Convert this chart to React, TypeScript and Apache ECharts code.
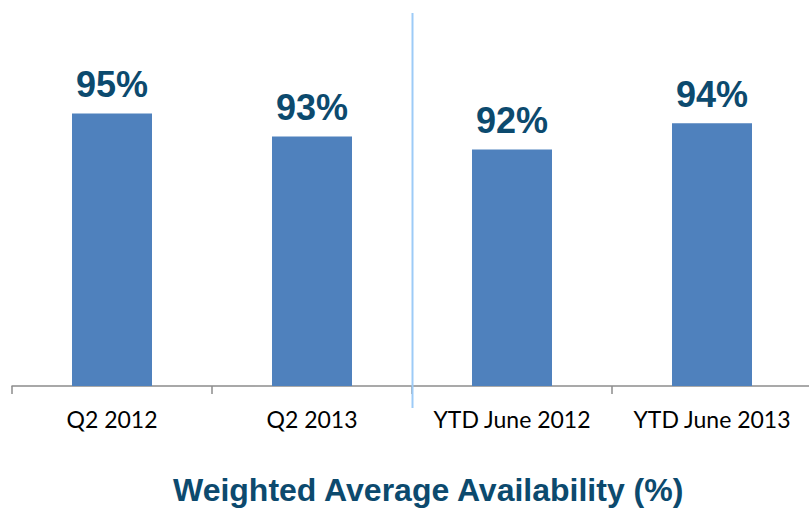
import React, { useEffect, useRef } from "react";
import * as echarts from "echarts";

const categories = ["Q2 2012", "Q2 2013", "YTD June 2012", "YTD June 2013"];
const availability = [95.0, 92.9, 91.7, 94.1];
const chartTitle = "Weighted Average Availability (%)";

export default function App() {
  const ref = useRef<HTMLDivElement>(null);
  useEffect(() => {
    if (!ref.current) return;
    const chart = echarts.init(ref.current, null, { renderer: "svg" });
    chart.setOption({
      animation: false,
      backgroundColor: "#ffffff",
      title: {
        text: chartTitle,
        left: 173,
        top: 474,
        padding: 0,
        textStyle: {
          fontFamily: "Liberation Sans, Arial, sans-serif",
          fontSize: 32,
          fontWeight: "bold",
          color: "#0C4A6E",
        },
      },
      grid: {
        left: 12,
        width: 800,
        top: 59,
        height: 327,
        containLabel: false,
        outerBoundsMode: "none",
      },
      xAxis: {
        type: "category",
        data: categories,
        axisLine: { lineStyle: { color: "#8C8C8C", width: 1.5 } },
        axisTick: { show: true, length: 8, lineStyle: { color: "#8C8C8C", width: 1.5 } },
        axisLabel: {
          fontFamily: "Lato, Open Sans, sans-serif",
          fontSize: 23,
          color: "#000000",
          margin: 21,
          interval: 0,
        },
      },
      yAxis: {
        type: "value",
        min: 70,
        max: 100,
        show: false,
      },
      series: [
        {
          type: "bar",
          data: availability,
          barWidth: 80,
          itemStyle: { color: "#4F81BD" },
          label: {
            show: true,
            position: "top",
            distance: 11,
            formatter: (p: any) => Math.round(p.value) + "%",
            fontFamily: "Liberation Sans, Arial, sans-serif",
            fontSize: 36,
            fontWeight: "bold",
            color: "#0C4A6E",
          },
        },
      ],
      graphic: [
        {
          type: "line",
          shape: { x1: 412.5, y1: 13, x2: 412.5, y2: 408 },
          style: { stroke: "#9DCBF7", lineWidth: 2 },
          z: 100,
        },
      ],
    });
    return () => chart.dispose();
  }, []);
  return (
    <div
      ref={ref}
      style={{ position: "fixed", left: 0, top: 0, width: 809, height: 508 }}
    />
  );
}
